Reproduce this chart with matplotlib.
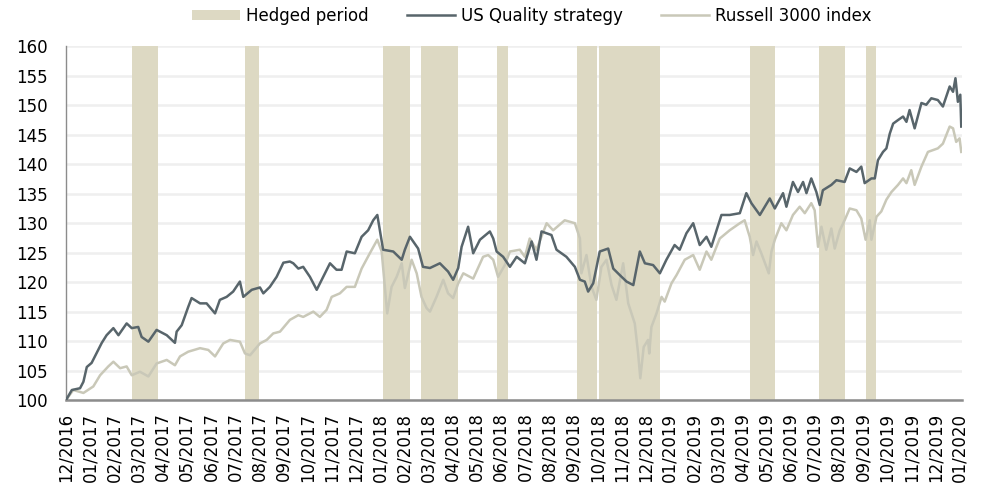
import matplotlib.pyplot as plt
import pandas as pd

# Time axis in months since 12/2016
quality_t = [0, 0.24, 0.58, 0.72, 0.86, 1.06, 1.27, 1.48, 1.68, 1.96, 2.17, 2.51, 2.72, 2.99, 3.13,
             3.41, 3.75, 4.17, 4.51, 4.58, 4.79, 5.06, 5.2, 5.55, 5.82, 6.17, 6.37, 6.65, 6.92, 7.2,
             7.34, 7.69, 8.03, 8.17, 8.44, 8.72, 9.0, 9.27, 9.41, 9.62, 9.82, 10.1, 10.38, 10.65, 10.93,
             11.2, 11.41, 11.62, 11.96, 12.24, 12.51, 12.72, 12.89, 12.97, 13.13, 13.55, 13.9, 14.03,
             14.24, 14.58, 14.78, 15.07, 15.48, 15.82, 16.03, 16.24, 16.38, 16.65, 16.86, 17.14, 17.55,
             17.69, 17.83, 18.1, 18.38, 18.66, 19.0, 19.28, 19.48, 19.69, 20.1, 20.31, 20.72, 21.07,
             21.28, 21.48, 21.62, 21.83, 22.1, 22.45, 22.66, 22.93, 23.21, 23.49, 23.76, 23.97, 24.31,
             24.59, 24.86, 25.2, 25.41, 25.69, 25.97, 26.24, 26.52, 26.72, 27.14, 27.48, 27.9, 28.17,
             28.38, 28.73, 29.14, 29.35, 29.69, 29.83, 30.1, 30.31, 30.52, 30.66, 30.86, 31.07, 31.21,
             31.34, 31.69, 31.9, 32.24, 32.45, 32.73, 32.93, 33.07, 33.35, 33.49, 33.62, 33.83, 33.97,
             34.11, 34.25, 34.45, 34.66, 34.8, 34.93, 35.14, 35.42, 35.62, 35.83, 36.1, 36.31, 36.59,
             36.73, 36.83, 36.93, 37.03, 37.07]
quality = [100, 101.7, 102, 103.1, 105.6, 106.3, 108, 109.7, 111, 112.2, 111, 113, 112.2, 112.4, 110.7,
           109.9, 111.9, 111, 109.7, 111.6, 112.7, 115.8, 117.3, 116.4, 116.4, 114.7, 117, 117.5, 118.4, 120.1,
           117.5, 118.7, 119.1, 118.1, 119.2, 120.9, 123.3, 123.5, 123.2, 122.3, 122.6, 120.9, 118.7, 120.9, 123.2,
           122.1, 122.1, 125.2, 124.9, 127.7, 128.8, 130.5, 131.4, 129.4, 125.5, 125.2, 123.8, 125.5,
           127.7, 125.7, 122.6, 122.4, 123.2, 121.8, 120.4, 122.4, 126, 129.4, 124.9, 127.2, 128.6,
           127.4, 125.2, 124.3, 122.6, 124.3, 123.2, 126.9, 123.8, 128.6, 128, 125.5, 124.3, 122.6,
           120.4, 120.1, 118.4, 119.8, 125.2, 125.7, 122.3, 121.2, 120.1, 119.5, 125.2, 123.2, 122.9,
           121.5, 123.8, 126.3, 125.5, 128.3, 130, 126.3, 127.7, 126, 131.4, 131.4, 131.7, 135.1,
           133.4, 131.4, 134.2, 132.5, 135.1, 132.8, 137, 135.3, 137, 135.1, 137.6, 135.3, 133.1,
           135.6, 136.5, 137.3, 137, 139.3, 138.7, 139.6, 136.8, 137.6, 137.6, 140.7, 142.1, 142.7,
           145.2, 146.9, 147.5, 148.1, 147.2, 149.2, 146.1, 150.4, 150.1, 151.2, 150.9, 149.8, 153.2,
           152.3, 154.6, 150.6, 151.8, 146.4]

russell_t = [0, 0.3, 0.72, 1.13, 1.41, 1.75, 1.96, 2.24, 2.51, 2.72, 3.06, 3.41, 3.75, 4.17, 4.51, 4.72,
             5.06, 5.55, 5.89, 6.17, 6.51, 6.79, 7.2, 7.41, 7.62, 8.03, 8.31, 8.58, 8.86, 9.27, 9.62, 9.82,
             10.24, 10.51, 10.79, 11.0, 11.34, 11.62, 11.96, 12.24, 12.58, 12.89, 13.07, 13.2, 13.3, 13.48,
             13.69, 13.9, 14.03, 14.31, 14.52, 14.72, 14.93, 15.07, 15.34, 15.62, 15.82, 16.03, 16.24,
             16.45, 16.86, 17.27, 17.48, 17.69, 17.89, 18.17, 18.38, 18.79, 19.0, 19.2, 19.48, 19.9, 20.17,
             20.65, 21.07, 21.28, 21.34, 21.55, 21.76, 21.96, 22.17, 22.38, 22.59, 22.79, 23.07, 23.28,
             23.55, 23.69, 23.78, 23.92, 24.1, 24.15, 24.24, 24.45, 24.66, 24.79, 25.07, 25.28, 25.62,
             25.97, 26.24, 26.52, 26.72, 27.07, 27.48, 27.9, 28.1, 28.31, 28.45, 28.59, 28.79, 29.0, 29.1,
             29.21, 29.35, 29.62, 29.83, 30.1, 30.38, 30.59, 30.86, 31.0, 31.14, 31.28, 31.48, 31.69,
             31.83, 32.04, 32.24, 32.45, 32.73, 32.93, 33.11, 33.28, 33.35, 33.56, 33.76, 33.97, 34.18,
             34.45, 34.66, 34.8, 35.0, 35.14, 35.42, 35.69, 35.9, 36.1, 36.31, 36.59, 36.73, 36.86, 37.0, 37.07]
russell = [100, 101.7, 101.2, 102.3, 104.2, 105.7, 106.5, 105.4, 105.7, 104.2, 104.8, 104, 106.2, 106.8, 105.9, 107.4,
           108.2, 108.8, 108.5, 107.4, 109.6, 110.2, 109.9, 107.9, 107.6, 109.6, 110.2, 111.3, 111.6, 113.6, 114.4, 114.1,
           115, 114.1, 115.3, 117.5, 118.1, 119.2, 119.2, 122.3, 124.9, 127.2, 125.2, 119.2, 114.7, 119.2,
           120.9, 123.2, 119, 123.8, 121.5, 117.5, 115.6, 115, 117.5, 120.4, 118.1, 117.3, 119.8,
           121.5, 120.6, 124.3, 124.6, 123.8, 120.9, 122.9, 125.2, 125.5, 124.3, 127.4, 125.5, 130, 128.8,
           130.5, 130, 127.4, 121.5, 124.6, 119.2, 117, 122.6, 123.8, 119.5, 117, 123.2, 116.4,
           113, 107.9, 103.7, 109, 110.2, 107.9, 112.4, 114.7, 117.5, 116.7, 119.8, 121.2, 123.8,
           124.6, 122.1, 125.2, 123.8, 127.4, 128.8, 130, 130.5, 127.7, 124.6, 126.9, 124.9, 122.6, 121.5,
           125.2, 127.2, 130, 128.8, 131.4, 132.8, 131.7, 133.4, 132.2, 126, 129.4, 125.5, 129.1,
           125.7, 128.8, 130.5, 132.5, 132.2, 130.8, 127.2, 130.5, 127.2, 131.1, 132, 134, 135.3,
           136.5, 137.6, 136.8, 139, 136.5, 139.6, 142.1, 142.4, 142.7, 143.5, 146.4, 146.1, 143.8, 144.4, 142.1]

# Hedged periods (start, end) in months since 12/2016
hedge_start = [2.72, 7.41, 13.11, 14.68, 17.85, 21.16, 22.06, 28.31, 31.16, 33.11]
hedge_end = [3.82, 8.0, 14.24, 16.22, 18.31, 21.99, 24.59, 29.37, 32.24, 33.53]

# Month tick labels
tick_labels = pd.date_range("2016-12-01", "2020-01-01", freq="MS").strftime("%m/%Y").tolist()

plt.rcParams['font.family'] = 'DejaVu Sans'
fig = plt.figure(figsize=(9.9, 4.87), dpi=100)
ax = fig.add_axes([0.0667, 0.1786, 0.905, 0.7261])

# Shaded hedge bands
for i, (s, e) in enumerate(zip(hedge_start, hedge_end)):
    ax.axvspan(s, e, color='#ddd9c3', lw=0, zorder=1,
               label='Hedged period' if i == 0 else None)

ax.plot(quality_t, quality, color='#58656b', lw=1.8, zorder=3, label='US Quality strategy')
ax.plot(russell_t, russell, color='#c9c8b8', lw=1.8, zorder=2, label='Russell 3000 index')

ax.set_ylim(100, 160)
ax.set_yticks(range(100, 161, 5))
ax.set_xlim(0, 37.1)
ax.set_xticks(range(len(tick_labels)))
ax.set_xticklabels(tick_labels, rotation=90)
ax.tick_params(labelsize=12, length=0, colors='black')
ax.yaxis.set_tick_params(pad=13)
ax.xaxis.set_tick_params(pad=9)

ax.grid(axis='y', color='#efefef', lw=1.8, zorder=0)
ax.set_axisbelow(True)
for side in ['top', 'right']:
    ax.spines[side].set_visible(False)
ax.spines['left'].set_color('#8c8c8c')
ax.spines['left'].set_linewidth(1.0)
ax.spines['bottom'].set_color('#8c8c8c')
ax.spines['bottom'].set_linewidth(1.8)

fig.legend(loc='center', bbox_to_anchor=(0.537, 0.967), ncol=3, frameon=False,
           fontsize=12, handlelength=2.9, handleheight=0.6, handletextpad=0.35, columnspacing=2.3)

fig.savefig('out.png', dpi=100)
